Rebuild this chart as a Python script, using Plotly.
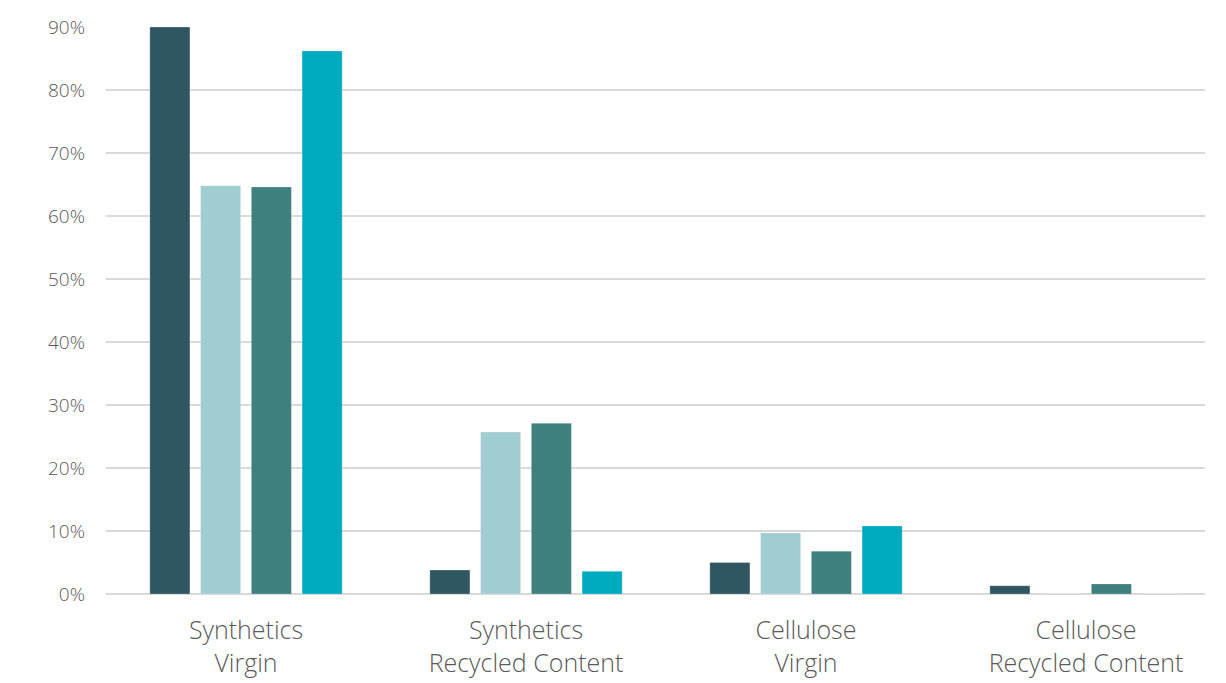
import plotly.graph_objects as go

categories = ["Synthetics<br>Virgin", "Synthetics<br>Recycled Content",
              "Cellulose<br>Virgin", "Cellulose<br>Recycled Content"]
series_names = ["Series 1", "Series 2", "Series 3", "Series 4"]
series_1 = [90.0, 3.8, 5.0, 1.3]
series_2 = [64.8, 25.7, 9.7, 0.0]
series_3 = [64.6, 27.1, 6.8, 1.6]
series_4 = [86.2, 3.6, 10.8, 0.0]
colors = ["#2F5661", "#A0CDD2", "#3E807D", "#00AABF"]
y_ticks = [0, 10, 20, 30, 40, 50, 60, 70, 80, 90]
y_tick_labels = ["0%", "10%", "20%", "30%", "40%", "50%", "60%", "70%", "80%", "90%"]

fig = go.Figure()
for name, vals, col in zip(series_names, [series_1, series_2, series_3, series_4], colors):
    fig.add_trace(go.Bar(x=categories, y=vals, name=name,
                         marker=dict(color=col, line=dict(color="rgba(255,255,255,0.5)", width=0.5))))

fig.update_layout(
    width=1226, height=683,
    margin=dict(l=106, r=21, t=27, b=89),
    barmode="group", bargap=0.275, bargroupgap=0.21,
    showlegend=False,
    plot_bgcolor="white", paper_bgcolor="white",
    font=dict(family="Open Sans", color="#595959"),
    xaxis=dict(range=[-0.5, 3.425], showgrid=False, showline=False, ticks="",
               ticklabelstandoff=19, automargin=False,
               tickfont=dict(size=25, color="#595959", family="Open Sans", weight=300)),
    yaxis=dict(range=[0, 90], tickvals=y_ticks, ticktext=y_tick_labels, showgrid=True,
               gridcolor="#D9D9D9", gridwidth=2, zeroline=True, zerolinecolor="#D9D9D9",
               zerolinewidth=2, showline=False, ticks="", ticklabelstandoff=20,
               automargin=False,
               tickfont=dict(size=19, color="#595959", family="Open Sans", weight=300)),
)

fig.write_html("out.html")
